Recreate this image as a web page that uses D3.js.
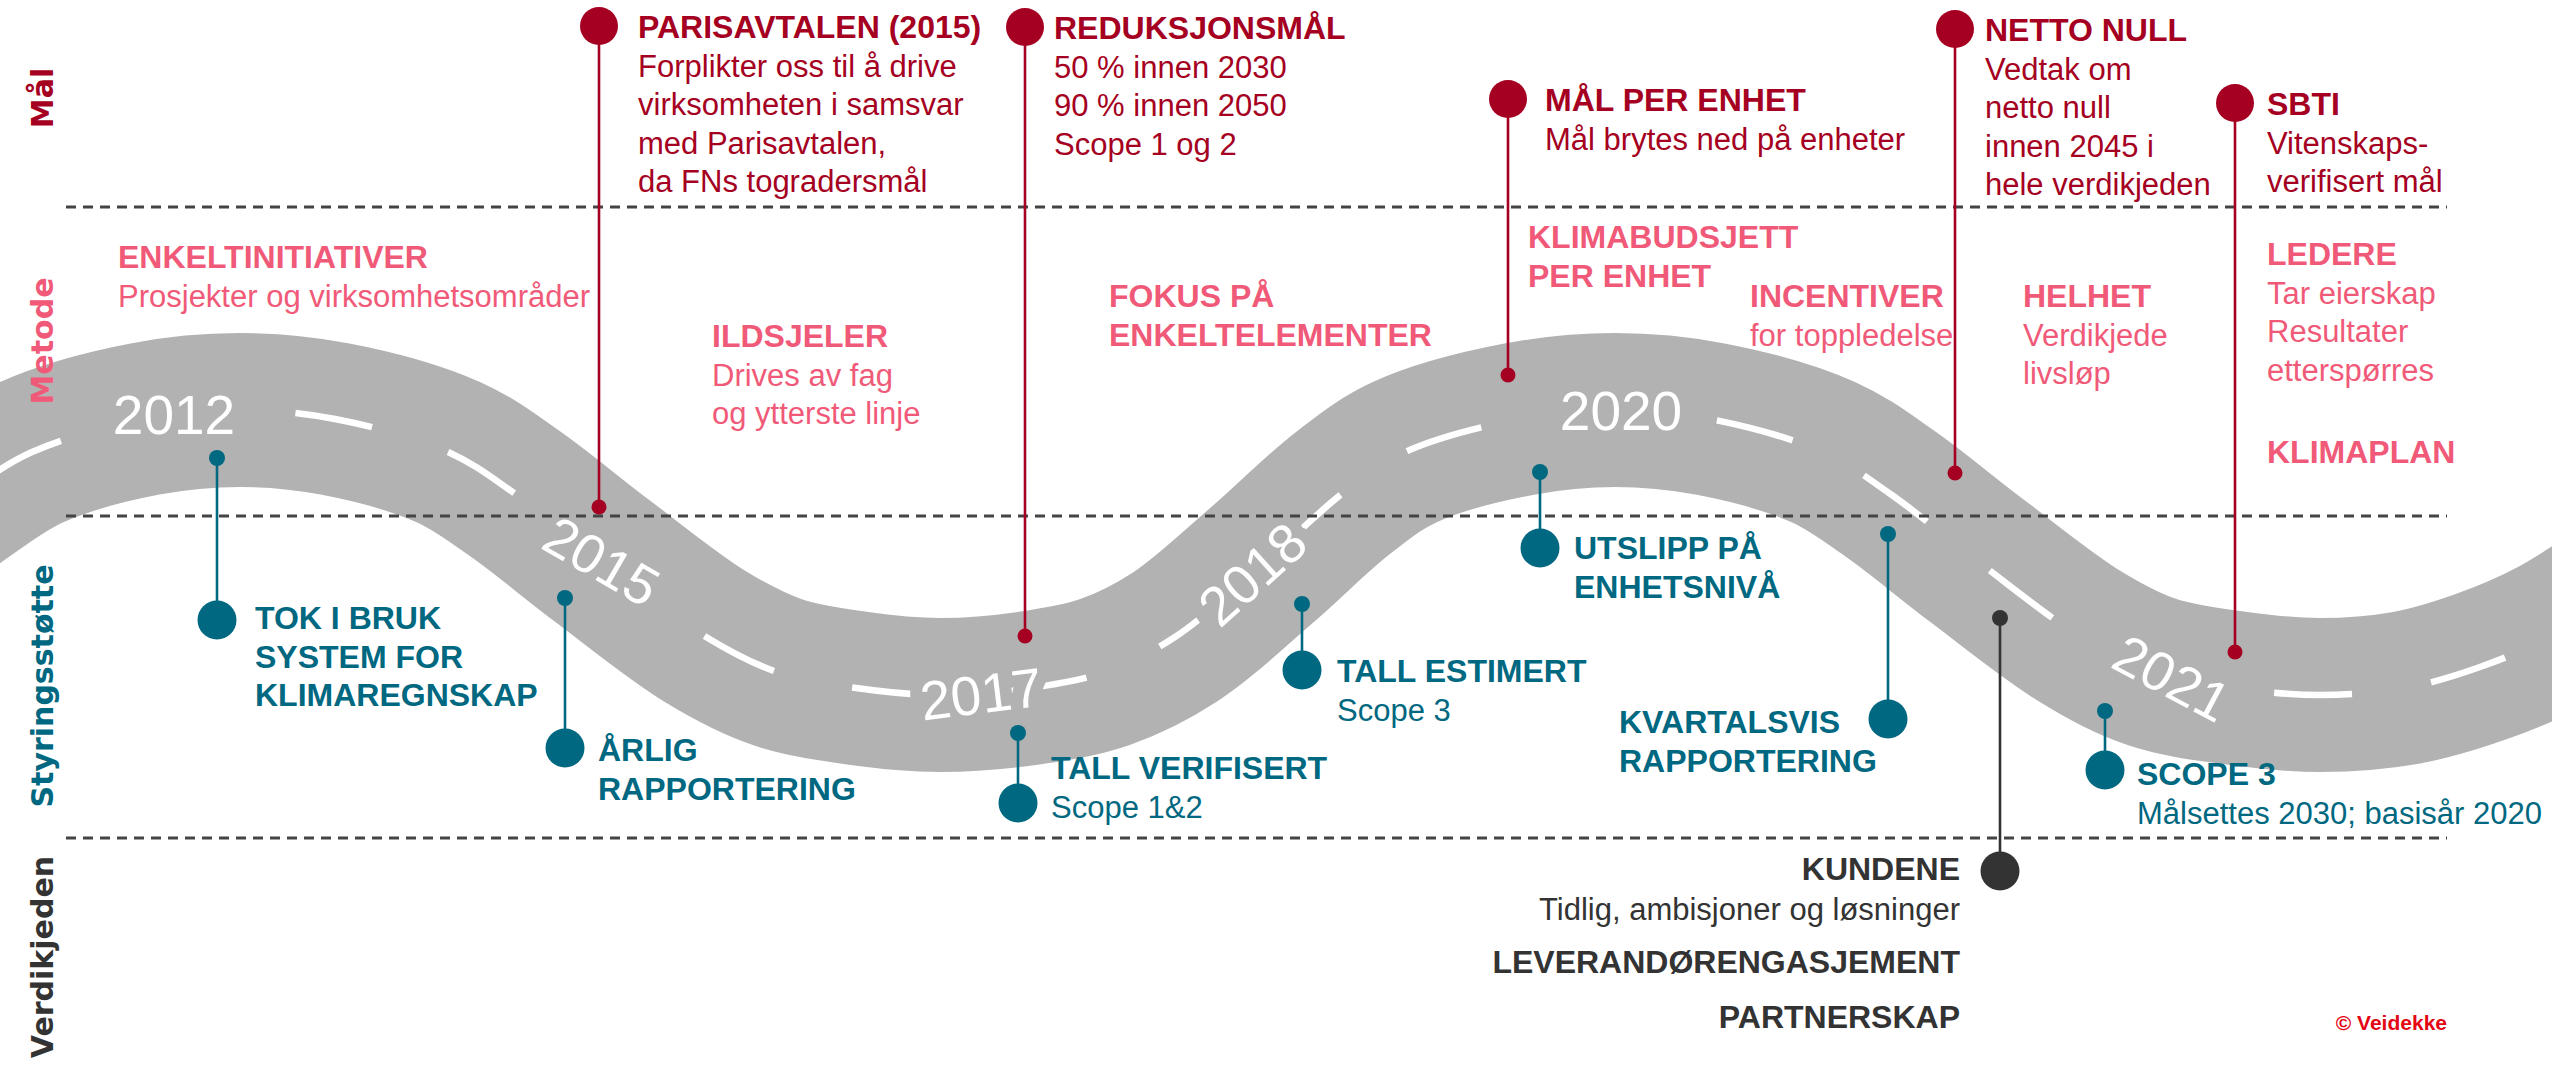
<!DOCTYPE html>
<html>
<head>
<meta charset="utf-8">
<script src="https://cdn.jsdelivr.net/npm/d3@7"></script>
<style>
  html, body { margin: 0; padding: 0; background: #fff; overflow: hidden; }
  svg { display: block; font-family: "Liberation Sans", Arial, Helvetica, sans-serif; }
</style>
</head>
<body>
<div id="chart"></div>
<script>
// road centre line (reference px)
const roadX = [-121, -34, 32, 145, 240, 335, 448, 514, 601, 706, 777, 856, 940, 1030, 1105, 1175, 1262, 1343, 1405, 1520, 1615, 1710, 1823, 1889, 1976, 2081, 2152, 2235, 2320, 2405, 2480, 2552, 2640];
const roadY = [560, 493, 452, 419, 410, 419, 452, 493, 560, 637, 672, 688, 695, 688, 672, 637, 565, 493, 452, 419, 410, 419, 452, 493, 560, 637, 672, 688, 695, 688, 667, 636, 580];

// years written on the road
const years = ["2012", "2015", "2017", "2018", "2020", "2021"];
const yearX = [174, 602, 981, 1252, 1621, 2172];
const yearAngle = [0, 30, -7, -42, 0, 28];

// rows
const rowNames = ["Mål", "Metode", "Styringsstøtte", "Verdikjeden"];
const rowMid = [98, 341, 686, 957];
const rowLines = [207, 516, 838];

// Mål (goals)
const goalTitles = ["PARISAVTALEN (2015)", "REDUKSJONSMÅL", "MÅL PER ENHET", "NETTO NULL", "SBTI"];
const goalText = [
  ["Forplikter oss til å drive", "virksomheten i samsvar", "med Parisavtalen,", "da FNs togradersmål"],
  ["50 % innen 2030", "90 % innen 2050", "Scope 1 og 2"],
  ["Mål brytes ned på enheter"],
  ["Vedtak om", "netto null", "innen 2045 i", "hele verdikjeden"],
  ["Vitenskaps-", "verifisert mål"]
];
const goalX = [599, 1025, 1508, 1955, 2235];
const goalTop = [26, 27, 99, 29, 103];
const goalRoad = [507, 636, 375, 473, 652];
const goalLabelX = [638, 1054, 1545, 1985, 2267];

// Metode (method)
const methodTitles = [["ENKELTINITIATIVER"], ["ILDSJELER"], ["FOKUS PÅ", "ENKELTELEMENTER"], ["KLIMABUDSJETT", "PER ENHET"], ["INCENTIVER"], ["HELHET"], ["LEDERE"], ["KLIMAPLAN"]];
const methodText = [["Prosjekter og virksomhetsområder"], ["Drives av fag", "og ytterste linje"], [], [], ["for toppledelse"], ["Verdikjede", "livsløp"], ["Tar eierskap", "Resultater", "etterspørres"], []];
const methodX = [118, 712, 1109, 1528, 1750, 2023, 2267, 2267];
const methodY = [268, 347, 307, 248, 307, 307, 265, 463];

// Styringsstøtte (steering)
const steerTitles = [["TOK I BRUK", "SYSTEM FOR", "KLIMAREGNSKAP"], ["ÅRLIG", "RAPPORTERING"], ["TALL VERIFISERT"], ["TALL ESTIMERT"], ["UTSLIPP PÅ", "ENHETSNIVÅ"], ["KVARTALSVIS", "RAPPORTERING"], ["SCOPE 3"]];
const steerText = [[], [], ["Scope 1&2"], ["Scope 3"], [], [], ["Målsettes 2030; basisår 2020"]];
const steerX = [217, 565, 1018, 1302, 1540, 1888, 2105];
const steerRoad = [458, 598, 733, 604, 472, 534, 711];
const steerDot = [620, 748, 803, 670, 548, 719, 770];
const steerLabelX = [255, 598, 1051, 1337, 1574, 1619, 2137];
const steerLabelY = [629, 761, 779, 682, 559, 733, 785];

// Verdikjeden (value chain)
const chainItems = ["KUNDENE", "Tidlig, ambisjoner og løsninger", "LEVERANDØRENGASJEMENT", "PARTNERSKAP"];
const chainBold = [true, false, true, true];
const chainY = [880, 920, 973, 1028];
const chainX = 2000, chainRoad = 618, chainDot = 871, chainLabelX = 1960;

const W = 2552, H = 1065;
const red = "#A50021", pink = "#F05A78", teal = "#006880", dark = "#333333", roadGrey = "#B2B2B2";
const lineGap = 38.5, titleSize = 32, textSize = 31;

const x = d3.scaleLinear().domain([0, 2552]).range([0, W]);
const y = d3.scaleLinear().domain([0, 1065]).range([0, H]);

const svg = d3.select("#chart").append("svg")
  .attr("width", W).attr("height", H)
  .attr("viewBox", `0 0 ${W} ${H}`);

// road
const road = d3.line()
  .x((d, i) => x(roadX[i]))
  .y((d, i) => y(roadY[i]))
  .curve(d3.curveCatmullRom.alpha(0.5));

svg.append("path")
  .attr("d", road(roadX))
  .attr("fill", "none")
  .attr("stroke", roadGrey)
  .attr("stroke-width", 154);

const centre = svg.append("path")
  .attr("d", road(roadX))
  .attr("fill", "none")
  .attr("stroke", "#fff")
  .attr("stroke-width", 6.5)
  .attr("stroke-dasharray", "78 80");

function atX(node, px) {
  let lo = 0, hi = node.getTotalLength();
  for (let k = 0; k < 40; k++) {
    const mid = (lo + hi) / 2;
    if (node.getPointAtLength(mid).x < px) lo = mid; else hi = mid;
  }
  return { len: lo, p: node.getPointAtLength(lo) };
}

// line the dashes up with the one starting at x = 448
const start = atX(centre.node(), x(448)).len;
centre.attr("stroke-dashoffset", 158 - (start % 158));

// year labels
svg.append("g").selectAll("text")
  .data(years)
  .join("text")
  .attr("transform", (d, i) => {
    const p = atX(centre.node(), x(yearX[i])).p;
    return `translate(${p.x},${p.y}) rotate(${yearAngle[i]})`;
  })
  .attr("text-anchor", "middle")
  .attr("dy", "0.36em")
  .attr("font-size", 55)
  .attr("fill", "#fff")
  .attr("stroke", roadGrey)
  .attr("stroke-width", 24)
  .attr("paint-order", "stroke")
  .text(d => d);

// row separators
svg.append("g").selectAll("line")
  .data(rowLines)
  .join("line")
  .attr("x1", x(66)).attr("x2", x(2447))
  .attr("y1", d => y(d)).attr("y2", d => y(d))
  .attr("stroke", "#444")
  .attr("stroke-width", 3.2)
  .attr("stroke-dasharray", "10 7");

// row names
const rowColors = [red, pink, teal, dark];
svg.append("g").selectAll("text")
  .data(rowNames)
  .join("text")
  .attr("transform", (d, i) => `translate(${x(53)},${y(rowMid[i])}) rotate(-90)`)
  .attr("text-anchor", "middle")
  .attr("font-family", "'DejaVu Sans', Verdana, sans-serif")
  .attr("font-weight", "bold")
  .attr("font-size", 30)
  .attr("fill", (d, i) => rowColors[i])
  .text(d => d);

// helper for a block of text: bold title lines then normal lines
function block(g, tx, ty, titles, lines, color, anchor) {
  const t = g.append("text")
    .attr("x", tx).attr("y", ty)
    .attr("fill", color)
    .attr("text-anchor", anchor || "start");
  titles.forEach((s, k) => {
    t.append("tspan").attr("x", tx).attr("dy", k === 0 ? 0 : lineGap)
      .attr("font-weight", "bold").attr("font-size", titleSize).text(s);
  });
  lines.forEach((s, k) => {
    t.append("tspan").attr("x", tx).attr("dy", (titles.length === 0 && k === 0) ? 0 : lineGap)
      .attr("font-size", textSize).text(s);
  });
}

// goals
const goals = svg.append("g");
goalTitles.forEach((d, i) => {
  goals.append("line")
    .attr("x1", x(goalX[i])).attr("x2", x(goalX[i]))
    .attr("y1", y(goalTop[i])).attr("y2", y(goalRoad[i]))
    .attr("stroke", red).attr("stroke-width", 2.6);
  goals.append("circle").attr("cx", x(goalX[i])).attr("cy", y(goalTop[i])).attr("r", 19).attr("fill", red);
  goals.append("circle").attr("cx", x(goalX[i])).attr("cy", y(goalRoad[i])).attr("r", 7.5).attr("fill", red);
  block(goals, x(goalLabelX[i]), y(goalTop[i] + 12), [d], goalText[i], red);
});

// method
const method = svg.append("g");
methodTitles.forEach((d, i) => {
  block(method, x(methodX[i]), y(methodY[i]), d, methodText[i], pink);
});

// steering
const steer = svg.append("g");
steerTitles.forEach((d, i) => {
  steer.append("line")
    .attr("x1", x(steerX[i])).attr("x2", x(steerX[i]))
    .attr("y1", y(steerRoad[i])).attr("y2", y(steerDot[i]))
    .attr("stroke", teal).attr("stroke-width", 2.6);
  steer.append("circle").attr("cx", x(steerX[i])).attr("cy", y(steerRoad[i])).attr("r", 8).attr("fill", teal);
  steer.append("circle").attr("cx", x(steerX[i])).attr("cy", y(steerDot[i])).attr("r", 19.5).attr("fill", teal);
  block(steer, x(steerLabelX[i]), y(steerLabelY[i]), d, steerText[i], teal);
});

// value chain
const chain = svg.append("g");
chain.append("line")
  .attr("x1", x(chainX)).attr("x2", x(chainX))
  .attr("y1", y(chainRoad)).attr("y2", y(chainDot))
  .attr("stroke", dark).attr("stroke-width", 2.6);
chain.append("circle").attr("cx", x(chainX)).attr("cy", y(chainRoad)).attr("r", 8).attr("fill", dark);
chain.append("circle").attr("cx", x(chainX)).attr("cy", y(chainDot)).attr("r", 19.5).attr("fill", dark);
chain.selectAll("text.item")
  .data(chainItems)
  .join("text")
  .attr("class", "item")
  .attr("x", x(chainLabelX))
  .attr("y", (d, i) => y(chainY[i]))
  .attr("text-anchor", "end")
  .attr("fill", dark)
  .attr("font-weight", (d, i) => chainBold[i] ? "bold" : "normal")
  .attr("font-size", (d, i) => chainBold[i] ? titleSize : textSize)
  .text(d => d);

// copyright
svg.append("text")
  .attr("x", x(2447)).attr("y", y(1030))
  .attr("text-anchor", "end")
  .attr("font-weight", "bold")
  .attr("font-size", 21)
  .attr("fill", "#E30613")
  .text("© Veidekke");
</script>
</body>
</html>
